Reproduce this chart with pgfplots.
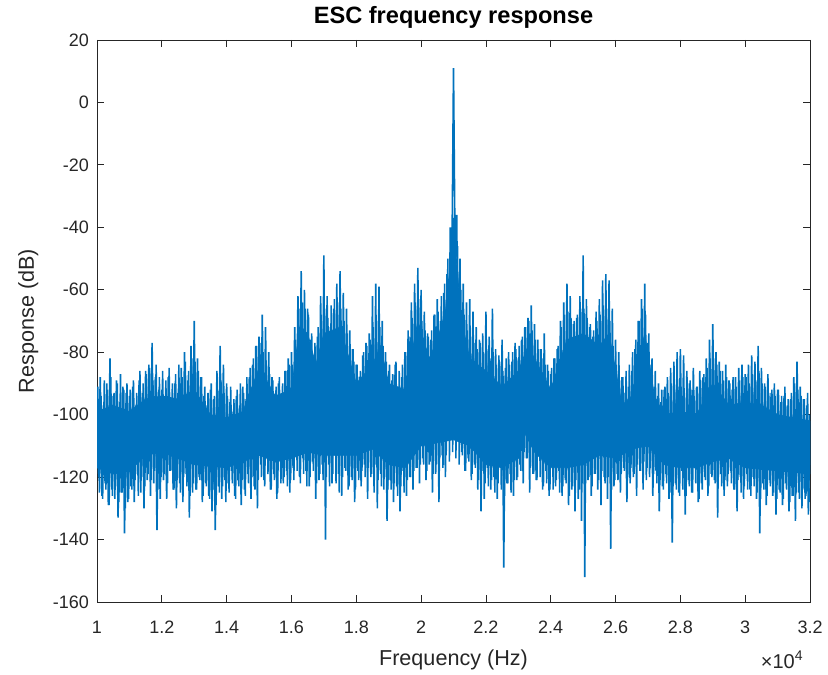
\documentclass[border=0pt]{standalone}
\usepackage{fontspec}
\setmainfont{Liberation Sans}
\usepackage{pgfplots}
\usepackage{pgfplotstable}
\pgfplotsset{compat=1.18}
\definecolor{mblue}{RGB}{0,114,189}
\definecolor{axgray}{RGB}{38,38,38}
\pgfplotstableread[row sep=\\]{y\\
-95\\ -120\\ -88\\ -126\\ -97\\ -122\\ -90\\ -129\\ -82\\ -124\\ -94\\ -127\\ -89\\ -133\\ -96\\ -125\\ -91\\ -138\\ -93\\ -128\\
-94\\ -123\\ -91\\ -128\\ -97\\ -119\\ -89\\ -125\\ -93\\ -130\\ -86\\ -121\\ -84\\ -126\\ -77\\ -122\\ -88\\ -137\\ -92\\ -127\\
-92\\ -121\\ -95\\ -127\\ -88\\ -118\\ -96\\ -124\\ -90\\ -130\\ -93\\ -122\\ -85\\ -128\\ -80\\ -119\\ -89\\ -133\\ -78\\ -125\\
-70\\ -124\\ -82\\ -120\\ -88\\ -128\\ -94\\ -122\\ -97\\ -126\\ -92\\ -131\\ -95\\ -137\\ -86\\ -123\\ -78\\ -127\\ -84\\ -121\\
-90\\ -122\\ -96\\ -118\\ -99\\ -126\\ -94\\ -121\\ -97\\ -129\\ -91\\ -124\\ -95\\ -119\\ -88\\ -127\\ -84\\ -123\\ -78\\ -130\\
-75\\ -116\\ -68\\ -121\\ -72\\ -113\\ -80\\ -124\\ -88\\ -119\\ -94\\ -127\\ -90\\ -115\\ -96\\ -122\\ -86\\ -118\\ -82\\ -125\\
-80\\ -117\\ -72\\ -112\\ -62\\ -120\\ -54\\ -114\\ -60\\ -118\\ -66\\ -123\\ -76\\ -115\\ -82\\ -127\\ -75\\ -121\\ -62\\ -116\\
-49\\ -140\\ -62\\ -116\\ -72\\ -122\\ -66\\ -113\\ -58\\ -119\\ -54\\ -126\\ -61\\ -117\\ -66\\ -124\\ -73\\ -120\\ -79\\ -128\\
-84\\ -118\\ -88\\ -123\\ -81\\ -116\\ -77\\ -127\\ -74\\ -120\\ -62\\ -125\\ -58\\ -130\\ -59\\ -119\\ -70\\ -124\\ -80\\ -134\\
-86\\ -121\\ -89\\ -128\\ -84\\ -123\\ -91\\ -131\\ -88\\ -118\\ -80\\ -126\\ -73\\ -120\\ -64\\ -124\\ -58\\ -117\\ -53\\ -122\\
-60\\ -114\\ -67\\ -121\\ -74\\ -116\\ -76\\ -125\\ -68\\ -119\\ -63\\ -128\\ -70\\ -113\\ -61\\ -120\\ -55\\ -100\\ -40\\ -52\\
11\\ -50\\ -36\\ -104\\ -50\\ -112\\ -58\\ -118\\ -64\\ -114\\ -63\\ -121\\ -67\\ -116\\ -72\\ -124\\ -76\\ -131\\ -74\\ -127\\
-67\\ -117\\ -75\\ -124\\ -66\\ -120\\ -79\\ -127\\ -81\\ -115\\ -76\\ -149\\ -85\\ -122\\ -80\\ -119\\ -83\\ -126\\ -77\\ -121\\
-82\\ -116\\ -76\\ -122\\ -72\\ -114\\ -69\\ -125\\ -65\\ -119\\ -71\\ -121\\ -76\\ -113\\ -79\\ -124\\ -74\\ -118\\ -84\\ -126\\
-87\\ -115\\ -82\\ -123\\ -79\\ -118\\ -70\\ -126\\ -64\\ -121\\ -58\\ -129\\ -62\\ -124\\ -71\\ -131\\ -69\\ -127\\ -62\\ -134\\
-49\\ -152\\ -63\\ -121\\ -72\\ -126\\ -75\\ -119\\ -67\\ -124\\ -63\\ -129\\ -57\\ -120\\ -55\\ -127\\ -57\\ -143\\ -66\\ -123\\
-76\\ -119\\ -80\\ -125\\ -88\\ -117\\ -93\\ -128\\ -91\\ -122\\ -86\\ -120\\ -79\\ -126\\ -70\\ -118\\ -63\\ -124\\ -58\\ -121\\
-77\\ -120\\ -84\\ -126\\ -91\\ -118\\ -94\\ -131\\ -96\\ -123\\ -92\\ -119\\ -88\\ -127\\ -85\\ -141\\ -83\\ -122\\ -80\\ -125\\
-79\\ -118\\ -81\\ -132\\ -86\\ -121\\ -89\\ -125\\ -85\\ -117\\ -91\\ -128\\ -86\\ -122\\ -88\\ -120\\ -82\\ -126\\ -76\\ -119\\
-71\\ -121\\ -80\\ -133\\ -83\\ -119\\ -86\\ -126\\ -84\\ -123\\ -89\\ -118\\ -92\\ -124\\ -88\\ -131\\ -85\\ -120\\ -84\\ -127\\
-87\\ -119\\ -84\\ -124\\ -81\\ -120\\ -83\\ -127\\ -78\\ -138\\ -85\\ -122\\ -90\\ -129\\ -87\\ -121\\ -93\\ -126\\ -90\\ -132\\
-92\\ -124\\ -96\\ -129\\ -94\\ -122\\ -97\\ -131\\ -95\\ -126\\ -88\\ -134\\ -83\\ -125\\ -91\\ -130\\ -95\\ -127\\ -97\\ -132\\
-100\\
}\spec
\pgfplotstableread[row sep=\\]{y\\
-91\\ -125\\ -94\\ -127\\ -89\\ -124\\ -92\\ -129\\ -88\\ -126\\ -93\\ -123\\ -90\\ -128\\ -87\\ -125\\ -92\\ -130\\ -90\\ -127\\
-92\\ -124\\ -89\\ -121\\ -93\\ -126\\ -86\\ -120\\ -90\\ -123\\ -87\\ -119\\ -85\\ -121\\ -89\\ -118\\ -84\\ -124\\ -88\\ -120\\
-86\\ -119\\ -89\\ -122\\ -85\\ -118\\ -90\\ -124\\ -87\\ -121\\ -84\\ -125\\ -88\\ -120\\ -83\\ -123\\ -86\\ -126\\ -82\\ -122\\
-83\\ -124\\ -86\\ -121\\ -88\\ -126\\ -91\\ -123\\ -93\\ -127\\ -90\\ -124\\ -94\\ -129\\ -92\\ -125\\ -89\\ -123\\ -93\\ -128\\
-94\\ -125\\ -91\\ -122\\ -95\\ -127\\ -92\\ -123\\ -90\\ -121\\ -93\\ -126\\ -88\\ -122\\ -85\\ -120\\ -82\\ -124\\ -78\\ -121\\
-77\\ -120\\ -80\\ -123\\ -84\\ -119\\ -87\\ -124\\ -89\\ -121\\ -91\\ -125\\ -88\\ -122\\ -90\\ -120\\ -86\\ -123\\ -84\\ -121\\
-84\\ -121\\ -76\\ -118\\ -66\\ -122\\ -64\\ -119\\ -66\\ -123\\ -68\\ -120\\ -74\\ -118\\ -77\\ -122\\ -72\\ -119\\ -68\\ -121\\
-66\\ -120\\ -69\\ -123\\ -65\\ -119\\ -63\\ -122\\ -64\\ -125\\ -66\\ -120\\ -70\\ -118\\ -74\\ -123\\ -79\\ -121\\ -83\\ -124\\
-84\\ -121\\ -86\\ -118\\ -80\\ -120\\ -78\\ -117\\ -76\\ -119\\ -72\\ -116\\ -70\\ -121\\ -72\\ -123\\ -78\\ -120\\ -83\\ -124\\
-84\\ -124\\ -87\\ -122\\ -83\\ -126\\ -86\\ -123\\ -84\\ -125\\ -80\\ -121\\ -75\\ -120\\ -69\\ -118\\ -64\\ -117\\ -63\\ -116\\
-70\\ -116\\ -73\\ -118\\ -75\\ -115\\ -73\\ -119\\ -68\\ -116\\ -67\\ -114\\ -62\\ -117\\ -58\\ -113\\ -50\\ -115\\ -42\\ -112\\
-38\\ -114\\ -46\\ -116\\ -60\\ -113\\ -68\\ -118\\ -73\\ -115\\ -75\\ -119\\ -77\\ -117\\ -79\\ -121\\ -77\\ -118\\ -80\\ -122\\
-79\\ -123\\ -82\\ -121\\ -80\\ -125\\ -84\\ -122\\ -83\\ -124\\ -86\\ -126\\ -82\\ -122\\ -84\\ -125\\ -80\\ -121\\ -79\\ -120\\
-78\\ -118\\ -75\\ -112\\ -72\\ -114\\ -70\\ -117\\ -73\\ -119\\ -76\\ -121\\ -79\\ -120\\ -82\\ -123\\ -84\\ -122\\ -86\\ -124\\
-85\\ -124\\ -82\\ -121\\ -78\\ -125\\ -72\\ -123\\ -68\\ -122\\ -67\\ -126\\ -69\\ -123\\ -70\\ -121\\ -68\\ -124\\ -66\\ -122\\
-66\\ -122\\ -69\\ -120\\ -71\\ -123\\ -73\\ -119\\ -70\\ -121\\ -68\\ -118\\ -65\\ -122\\ -66\\ -120\\ -70\\ -124\\ -78\\ -121\\
-84\\ -121\\ -89\\ -119\\ -88\\ -118\\ -86\\ -120\\ -84\\ -117\\ -80\\ -119\\ -76\\ -116\\ -70\\ -118\\ -66\\ -115\\ -68\\ -117\\
-74\\ -117\\ -82\\ -119\\ -86\\ -122\\ -90\\ -121\\ -92\\ -124\\ -91\\ -122\\ -93\\ -125\\ -90\\ -123\\ -92\\ -124\\ -91\\ -126\\
-91\\ -124\\ -93\\ -126\\ -90\\ -123\\ -92\\ -125\\ -94\\ -122\\ -91\\ -127\\ -89\\ -124\\ -87\\ -121\\ -85\\ -123\\ -82\\ -120\\
-82\\ -122\\ -84\\ -120\\ -86\\ -123\\ -89\\ -121\\ -88\\ -119\\ -90\\ -122\\ -88\\ -124\\ -91\\ -121\\ -89\\ -125\\ -88\\ -123\\
-88\\ -124\\ -90\\ -126\\ -87\\ -123\\ -89\\ -125\\ -86\\ -127\\ -90\\ -124\\ -91\\ -126\\ -93\\ -123\\ -92\\ -125\\ -94\\ -127\\
-92\\ -125\\ -94\\ -127\\ -91\\ -124\\ -95\\ -128\\ -93\\ -126\\ -90\\ -125\\ -92\\ -127\\ -94\\ -124\\ -95\\ -126\\ -93\\ -128\\
}\spectwo
\begin{document}
\begin{tikzpicture}
\begin{axis}[
  name=ax,
  scale only axis, width=356.5pt, height=281pt,
  xmin=1, xmax=3.2, ymin=-160, ymax=20,
  xtick={1,1.2,1.4,1.6,1.8,2,2.2,2.4,2.6,2.8,3,3.2},
  xticklabels={1,1.2,1.4,1.6,1.8,2,2.2,2.4,2.6,2.8,3,3.2},
  ytick={-160,-140,-120,-100,-80,-60,-40,-20,0,20},
  yticklabels={-160,-140,-120,-100,-80,-60,-40,-20,0,20},
  scaled x ticks=false, scaled y ticks=false,
  tick align=inside, major tick length=3.5pt,
  axis line style={axgray, line width=0.4pt},
  every tick/.style={axgray, line width=0.4pt},
  tick label style={font=\fontsize{9}{10}\selectfont, text=axgray},
  every x tick label/.append style={anchor=base, yshift=-15.5pt},
  every y tick label/.append style={xshift=-0.5pt},
  xlabel={Frequency (Hz)}, ylabel={Response (dB)},
  label style={font=\fontsize{10.8}{12}\selectfont, text=axgray, inner sep=0pt},
  xlabel style={at={(rel axis cs:0.5,0)}, anchor=base, yshift=-31.5pt},
  ylabel style={at={([xshift=-31.5pt]rel axis cs:0,0.5)}, rotate=0, anchor=base},
  title={ESC frequency response},
  title style={at={(rel axis cs:0.5,1)}, anchor=base, yshift=2pt, inner sep=0pt, font=\fontsize{11.8}{13}\selectfont\bfseries},
  extra description/.code={
    \node[anchor=base east, inner sep=0pt, font=\fontsize{10}{11}\selectfont, text=axgray] at ([xshift=-3pt, yshift=-33pt]rel axis cs:1,0) {×10\textsuperscript{4}};
  },
]
\addplot[fill=mblue, draw=mblue, line width=0.4pt] coordinates {
(1.00,-99) (1.05,-97) (1.10,-99) (1.15,-95) (1.20,-94) (1.25,-95) (1.30,-92) (1.35,-100) (1.40,-101) (1.45,-99)
(1.50,-85) (1.55,-94) (1.60,-92) (1.625,-72) (1.65,-74) (1.675,-84) (1.70,-74) (1.75,-72) (1.80,-90) (1.85,-84)
(1.875,-78) (1.90,-90) (1.95,-92) (1.99,-70) (2.025,-82) (2.05,-76) (2.075,-67) (2.09,-52) (2.10,-37) (2.11,-52)
(2.125,-70) (2.15,-82) (2.20,-86) (2.25,-91) (2.30,-86) (2.33,-78) (2.35,-82) (2.40,-92) (2.45,-76) (2.50,-74)
(2.55,-78) (2.58,-74) (2.62,-97) (2.65,-94) (2.69,-74) (2.72,-94) (2.75,-100) (2.80,-99) (2.85,-100) (2.90,-90)
(2.95,-97) (3.00,-96) (3.05,-97) (3.10,-100) (3.15,-101) (3.20,-102)
(3.20,-119) (3.10,-118) (3.00,-117) (2.95,-114) (2.90,-115) (2.85,-117) (2.80,-117) (2.75,-116) (2.70,-110) (2.65,-111)
(2.60,-114) (2.55,-113) (2.50,-116) (2.45,-117) (2.40,-117) (2.35,-112) (2.32,-106) (2.30,-114) (2.25,-117) (2.20,-116)
(2.15,-110) (2.10,-108) (2.05,-109) (2.00,-110) (1.95,-117) (1.90,-116) (1.85,-111) (1.80,-113) (1.75,-113) (1.70,-113)
(1.65,-112) (1.60,-114) (1.55,-115) (1.50,-113) (1.45,-115) (1.40,-117) (1.30,-116) (1.20,-112) (1.15,-113) (1.10,-118)
(1.05,-119) (1.00,-117)
} -- cycle;
\addplot[mblue, line width=0.75pt, line join=bevel] table[x expr=1.0025+0.005*\coordindex, y=y]{\spectwo};
\addplot[mblue, line width=0.8pt, line join=bevel] table[x expr=1+0.005*\coordindex, y=y]{\spec};
\end{axis}
\pgfresetboundingbox
\path ([shift={(-48.5pt,-36pt)}]ax.south west) rectangle ([shift={(9pt,20pt)}]ax.north east);
\end{tikzpicture}
\end{document}
